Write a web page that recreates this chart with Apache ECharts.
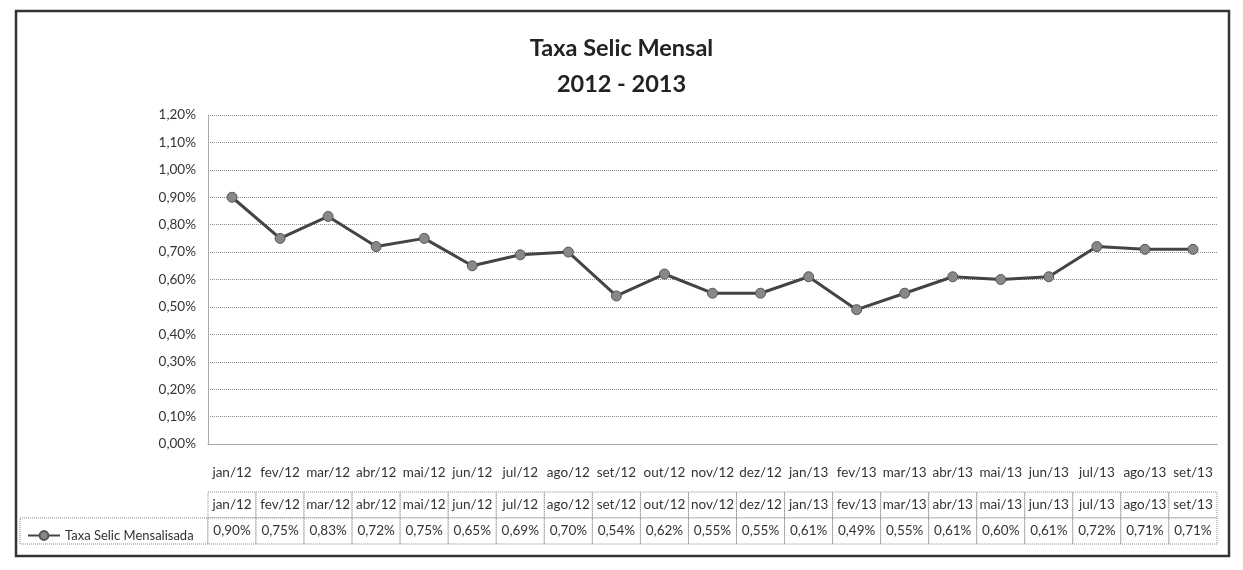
<!DOCTYPE html>
<html lang="pt">
<head>
    <meta charset="UTF-8">
    <title>Taxa Selic Mensal 2012 - 2013</title>
    <style>
        html, body { margin: 0; padding: 0; background: #fff; }
    </style>
</head>
<body>

<div id="main" style="width:1243px; height:570px;"></div>

<script src="https://cdn.jsdelivr.net/npm/echarts@6/dist/echarts.min.js"></script>
<script>
    var meses = ['jan/12', 'fev/12', 'mar/12', 'abr/12', 'mai/12', 'jun/12', 'jul/12', 'ago/12',
        'set/12', 'out/12', 'nov/12', 'dez/12', 'jan/13', 'fev/13', 'mar/13', 'abr/13',
        'mai/13', 'jun/13', 'jul/13', 'ago/13', 'set/13'];
    var selic = [0.90, 0.75, 0.83, 0.72, 0.75, 0.65, 0.69, 0.70, 0.54, 0.62, 0.55,
        0.55, 0.61, 0.49, 0.55, 0.61, 0.60, 0.61, 0.72, 0.71, 0.71];
    var nomeSerie = 'Taxa Selic Mensalisada';
    var linhasTabela = ['valor', 'mes'];

    function pct(v) {
        return v.toFixed(2).replace('.', ',') + '%';
    }

    // células da tabela: [coluna, linha, texto]
    var celulas = [];
    meses.forEach(function (m, i) {
        celulas.push([i, 'mes', m]);
        celulas.push([i, 'valor', pct(selic[i])]);
    });

    var fonte = 'Lato, "Open Sans", sans-serif';
    var chart = echarts.init(document.getElementById('main'));

    chart.setOption({
        backgroundColor: '#fff',
        animation: false,
        textStyle: { fontFamily: fonte },
        title: {
            text: 'Taxa Selic Mensal\n2012 - 2013',
            left: 'center',
            top: 25,
            textStyle: {
                fontFamily: fonte,
                fontSize: 23.5,
                fontWeight: 'bold',
                color: '#222',
                lineHeight: 36
            }
        },
        legend: {
            left: 22,
            top: 524,
            itemWidth: 32,
            itemHeight: 11,
            itemGap: 4,
            data: [nomeSerie],
            textStyle: { fontSize: 13, color: '#333', fontFamily: fonte }
        },
        grid: [
            { left: 208, right: 26, top: 115, bottom: 126 },
            { left: 208, right: 26, top: 492, height: 52 }
        ],
        xAxis: [{
            type: 'category',
            gridIndex: 0,
            data: meses,
            boundaryGap: true,
            axisLine: { show: true, lineStyle: { color: '#999', type: 'dotted' } },
            axisTick: { show: false },
            axisLabel: { color: '#333', fontSize: 13.5, margin: 22, interval: 0 }
        }, {
            type: 'category',
            gridIndex: 1,
            data: meses,
            show: false
        }],
        yAxis: [{
            type: 'value',
            gridIndex: 0,
            min: 0,
            max: 1.2,
            interval: 0.1,
            axisLine: { show: true, lineStyle: { color: '#aaa', width: 1 } },
            axisTick: { show: false },
            axisLabel: { color: '#333', fontSize: 13.5, margin: 12, formatter: pct },
            splitLine: { show: true, lineStyle: { color: '#888', type: 'dotted', width: 1 } }
        }, {
            type: 'category',
            gridIndex: 1,
            data: linhasTabela,
            show: false
        }],
        graphic: [{
            type: 'rect',
            shape: { x: 16, y: 11, width: 1213, height: 545 },
            style: { fill: 'none', stroke: '#333', lineWidth: 2.5 },
            z: 0
        }, {
            type: 'rect',
            shape: { x: 20, y: 518, width: 188, height: 26 },
            style: { fill: 'none', stroke: '#888', lineWidth: 1, lineDash: [1, 1] },
            z: 0
        }],
        series: [{
            name: nomeSerie,
            type: 'line',
            xAxisIndex: 0,
            yAxisIndex: 0,
            data: selic,
            symbol: 'circle',
            symbolSize: 10,
            lineStyle: { color: '#444', width: 3 },
            itemStyle: { color: '#888', borderColor: '#555', borderWidth: 1 }
        }, {
            name: 'tabela',
            type: 'custom',
            xAxisIndex: 1,
            yAxisIndex: 1,
            data: celulas,
            renderItem: function (params, api) {
                var c = api.coord([api.value(0), api.value(1)]);
                var s = api.size([1, 1]);
                var texto = celulas[params.dataIndex][2];
                return {
                    type: 'group',
                    children: [{
                        type: 'rect',
                        shape: { x: c[0] - s[0] / 2, y: c[1] - s[1] / 2, width: s[0], height: s[1] },
                        style: { fill: '#fff', stroke: '#888', lineWidth: 1, lineDash: [1, 1] }
                    }, {
                        type: 'text',
                        x: c[0],
                        y: c[1],
                        style: {
                            text: texto,
                            align: 'center',
                            verticalAlign: 'middle',
                            fill: '#333',
                            font: '13.5px ' + fonte
                        }
                    }]
                };
            }
        }]
    });
</script>
</body>
</html>
